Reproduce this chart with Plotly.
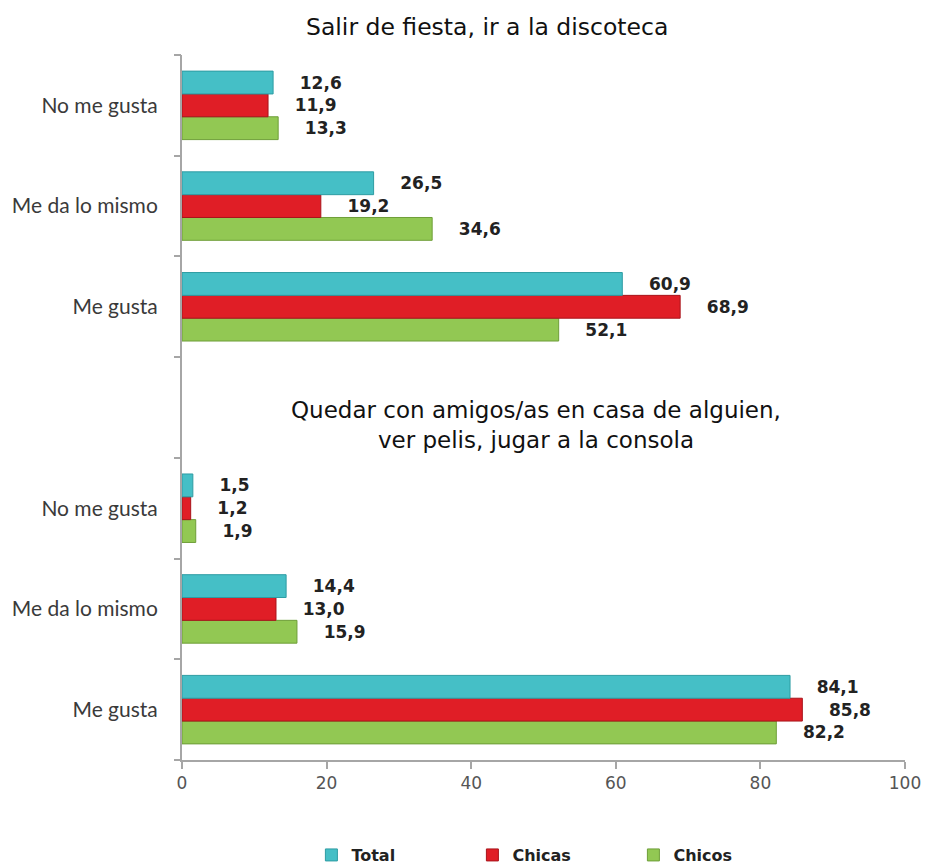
import plotly.graph_objects as go

# Data
categories = ["No me gusta", "Me da lo mismo", "Me gusta", "", "No me gusta", "Me da lo mismo", "Me gusta"]
slot_pos = [6, 5, 4, 3, 2, 1, 0]
bar_pos = [6, 5, 4, 2, 1, 0]
total = [12.6, 26.5, 60.9, 1.5, 14.4, 84.1]
chicas = [11.9, 19.2, 68.9, 1.2, 13.0, 85.8]
chicos = [13.3, 34.6, 52.1, 1.9, 15.9, 82.2]
x_ticks = [0, 20, 40, 60, 80, 100]
title_top = "Salir de fiesta, ir a la discoteca"
title_bottom = "Quedar con amigos/as en casa de alguien,<br>ver pelis, jugar a la consola"

colors = {"Total": "#45BFC6", "Chicas": "#E01E26", "Chicos": "#92C853"}
edge = {"Total": "#2E9CA3", "Chicas": "#A8141B", "Chicos": "#6E9E38"}

fig = go.Figure()
for name, vals, rank in [("Chicos", chicos, 3), ("Chicas", chicas, 2), ("Total", total, 1)]:
    fig.add_trace(go.Bar(
        y=bar_pos, x=vals, orientation="h", name=name, legendrank=rank,
        marker=dict(color=colors[name], line=dict(color=edge[name], width=1)),
        text=[f"{v:.1f}".replace(".", ",") for v in vals],
        texttemplate="    %{text}",
        textposition="outside", cliponaxis=False,
        textfont=dict(family="DejaVu Sans", size=17, color="#222222", weight=700),
    ))

fig.update_layout(
    width=926, height=867,
    margin=dict(l=182, r=21, t=55, b=107, autoexpand=False),
    paper_bgcolor="white", plot_bgcolor="white",
    barmode="group", bargap=0.32, bargroupgap=0,
    showlegend=True,
    legend=dict(orientation="h", x=0.513, xanchor="center", y=-0.1348, yanchor="middle",
                font=dict(family="DejaVu Sans", size=16, color="#222222", weight=700),
                entrywidth=116, itemwidth=30, traceorder="normal"),
    xaxis=dict(range=[0, 100], tickvals=x_ticks, ticktext=[str(t) for t in x_ticks],
               automargin=False,
               showgrid=False, zeroline=False, showline=True, linecolor="#A6A6A6", linewidth=2,
               ticks="outside", ticklen=7, tickcolor="#A6A6A6", tickwidth=2,
               tickfont=dict(family="DejaVu Sans", size=17, color="#555555")),
    yaxis=dict(range=[-0.5, 6.5], tickvals=slot_pos, ticktext=categories,
               automargin=False,
               showgrid=False, zeroline=False, showline=True, linecolor="#A6A6A6", linewidth=2,
               ticks="", ticklabelstandoff=18,
               tickfont=dict(family="Lato", size=21, color="#3A3A3A")),
    yaxis2=dict(range=[-0.5, 6.5], overlaying="y", side="left", automargin=False,
                tickvals=[s + 0.5 for s in slot_pos] + [-0.5], showticklabels=False,
                showgrid=False, zeroline=False, showline=False,
                ticks="outside", ticklen=7, tickcolor="#A6A6A6", tickwidth=2),
    annotations=[
        dict(text=title_top, xref="paper", y=1.0, yref="paper", x=0.422,
             xanchor="center", yanchor="middle", showarrow=False,
             font=dict(family="DejaVu Sans", size=23.5, color="#111111")),
        dict(text=title_bottom, xref="x", yref="y", x=49.0, y=2.826,
             xanchor="center", yanchor="middle", showarrow=False,
             font=dict(family="DejaVu Sans", size=23, color="#111111")),
    ],
)
plot_h = 867 - 55 - 107
fig.layout.annotations[0].y = 1 + (55 - 27) / plot_h
# invisible trace to activate yaxis2
fig.add_trace(go.Scatter(x=[None], y=[None], yaxis="y2", showlegend=False, hoverinfo="skip"))

fig.write_html("out.html", config={"displayModeBar": False},
               post_script="document.body.style.margin='0';document.body.style.overflow='hidden';")
